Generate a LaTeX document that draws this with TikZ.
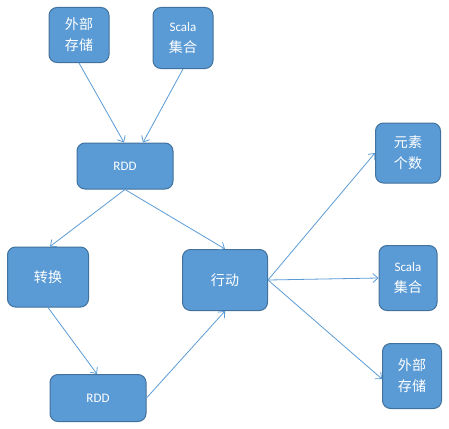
\documentclass[tikz,border=0pt]{standalone}
\usepackage{fontspec}
\setmainfont{Carlito}
\newfontfamily\cjk[Scale=1.08]{Noto Sans CJK SC}
\usetikzlibrary{arrows.meta}
\definecolor{boxfill}{HTML}{5B9BD5}
\definecolor{boxline}{HTML}{41719C}
\definecolor{linkblue}{HTML}{5B9BD5}

\begin{document}
\begin{tikzpicture}[x=1pt,y=-1pt,
  box/.style={draw=boxline, line width=1pt, fill=boxfill, rounded corners=8pt,
    text=white, align=center, inner sep=0pt, font=\fontsize{13}{21}\selectfont},
  link/.style={draw=linkblue, line width=0.8pt, -{Straight Barb[length=5pt,width=9pt]}}]
\useasboundingbox (0,0) rectangle (449,428);
\node[box, minimum width=60pt, minimum height=55pt] (store) at (79,35) {{\cjk 外部}\\{\cjk 存储}};
\node[box, minimum width=60pt, minimum height=61pt] (scala) at (183,38) {Scala\\{\cjk 集合}};
\node[box, minimum width=96pt, minimum height=46pt] (rdd) at (125,166) {RDD};
\node[box, minimum width=81pt, minimum height=60pt] (trans) at (48,277) {\cjk 转换};
\node[box, minimum width=85pt, minimum height=61pt] (act) at (225,280) {\cjk 行动};
\node[box, minimum width=96pt, minimum height=47pt] (rddtwo) at (98,398) {RDD};
\node[box, minimum width=65pt, minimum height=60pt] (count) at (408,153) {{\cjk 元素}\\{\cjk 个数}};
\node[box, minimum width=58pt, minimum height=65pt] (scalatwo) at (408,278) {Scala\\{\cjk 集合}};
\node[box, minimum width=59pt, minimum height=65pt] (storetwo) at (412,376) {{\cjk 外部}\\{\cjk 存储}};
\draw[link] (store.south) -- ([xshift=-1pt]rdd.north);
\draw[link] (scala.south) -- ([xshift=18pt]rdd.north);
\draw[link] (rdd.south) -- ([xshift=2pt]trans.north);
\draw[link] (rdd.south) -- (act.north);
\draw[link] (trans.south) -- ([xshift=-1pt]rddtwo.north);
\draw[link] (rddtwo.east) -- (act.south);
\draw[link] (act.east) -- (count.west);
\draw[link] (act.east) -- (scalatwo.west);
\draw[link] (act.east) -- ([yshift=-3pt]storetwo.west);
\end{tikzpicture}
\end{document}
